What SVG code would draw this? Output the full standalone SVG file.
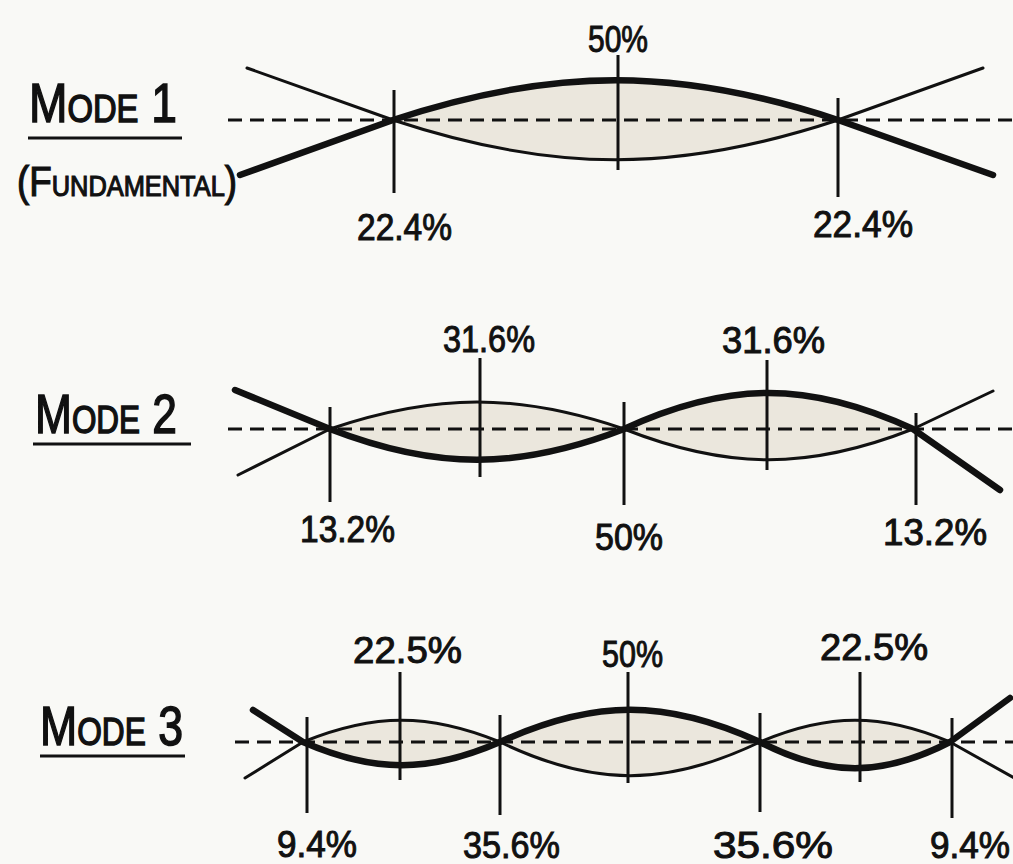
<svg xmlns="http://www.w3.org/2000/svg" width="1013" height="864" viewBox="0 0 1013 864">
<style>
.bg{fill:#f9f9f6}
.lobe{fill:#ebe7dd;stroke:none}
.thick{fill:none;stroke:#111;stroke-width:6.5;stroke-linecap:round;stroke-linejoin:round}
.thin{fill:none;stroke:#111;stroke-width:3;stroke-linecap:round;stroke-linejoin:round}
.dash{fill:none;stroke:#111;stroke-width:3;stroke-dasharray:14 8}
.tick{fill:none;stroke:#111;stroke-width:3}
.ul{fill:none;stroke:#111;stroke-width:3.2}
.lbl{font-family:"Liberation Sans",Arial,sans-serif;font-size:36px;fill:#111;stroke:#111;stroke-width:1}
.mode{font-family:"Liberation Sans",Arial,sans-serif;font-size:55px;font-variant:small-caps;fill:#111;stroke:#111;stroke-width:1.5}
.sub{font-family:"Liberation Sans",Arial,sans-serif;font-size:42px;font-variant:small-caps;fill:#111;stroke:#111;stroke-width:1.2}
</style>
<rect class="bg" x="0" y="0" width="1013" height="864"/>

<g id="mode1">
  <path class="lobe" d="M393,120 C553,67 678,67 838,120 C678,173 553,173 393,120 Z"/>
  <line class="dash" x1="228" y1="120" x2="1013" y2="120"/>
  <path class="thin" d="M247,68 L393,120 C553,173 678,173 838,120 L983,68"/>
  <path class="thick" d="M240,175 L393,120 C553,67 678,67 838,120 L993,175"/>
  <g id="m1-ticks">
    <line class="tick" x1="394" y1="90" x2="394" y2="193"/>
    <line class="tick" x1="618" y1="55" x2="618" y2="170"/>
    <line class="tick" x1="838" y1="98" x2="838" y2="197"/>
  </g>
  <text class="mode" x="29" y="122" textLength="148" lengthAdjust="spacingAndGlyphs">Mode 1</text>
  <line class="ul" x1="28" y1="138" x2="182" y2="138"/>
  <text class="sub" x="17" y="196" textLength="220" lengthAdjust="spacingAndGlyphs">(Fundamental)</text>
  <text class="lbl" x="588" y="52" textLength="60" lengthAdjust="spacingAndGlyphs">50%</text>
  <text class="lbl" x="357" y="240" textLength="95" lengthAdjust="spacingAndGlyphs">22.4%</text>
  <text class="lbl" x="813" y="237" textLength="100" lengthAdjust="spacingAndGlyphs">22.4%</text>
</g>

<g id="mode2">
  <path class="lobe" d="M330,429 C436,393 518,393 624,429 C518,470 436,470 330,429 Z"/>
  <path class="lobe" d="M624,429 C728,381 809,381 913,429 C809,470 728,470 624,429 Z"/>
  <line class="dash" x1="228" y1="429" x2="1013" y2="429"/>
  <path class="thin" d="M238,475 L330,429 C436,393 518,393 624,429 C728,470 809,470 913,429 L993,391"/>
  <path class="thick" d="M235,390 L330,429 C436,470 518,470 624,429 C728,381 809,381 913,429 L1000,490"/>
  <g id="m2-ticks">
    <line class="tick" x1="330" y1="407" x2="330" y2="502"/>
    <line class="tick" x1="480" y1="358" x2="480" y2="477"/>
    <line class="tick" x1="624" y1="402" x2="624" y2="505"/>
    <line class="tick" x1="767" y1="360" x2="767" y2="470"/>
    <line class="tick" x1="916" y1="413" x2="916" y2="505"/>
  </g>
  <text class="mode" x="35" y="433" textLength="142" lengthAdjust="spacingAndGlyphs">Mode 2</text>
  <line class="ul" x1="33" y1="444" x2="191" y2="444"/>
  <text class="lbl" x="443" y="352" textLength="92" lengthAdjust="spacingAndGlyphs">31.6%</text>
  <text class="lbl" x="722" y="353" textLength="103" lengthAdjust="spacingAndGlyphs">31.6%</text>
  <text class="lbl" x="300" y="542" textLength="95" lengthAdjust="spacingAndGlyphs">13.2%</text>
  <text class="lbl" x="595" y="550" textLength="68" lengthAdjust="spacingAndGlyphs">50%</text>
  <text class="lbl" x="883" y="545" textLength="104" lengthAdjust="spacingAndGlyphs">13.2%</text>
</g>

<g id="mode3">
  <path class="lobe" d="M303,742 C374,713 429,713 500,742 C429,773 374,773 303,742 Z"/>
  <path class="lobe" d="M500,742 C594,699 666,699 760,742 C666,787 594,787 500,742 Z"/>
  <path class="lobe" d="M760,742 C828,713 882,713 950,742 C882,777 828,777 760,742 Z"/>
  <line class="dash" x1="235" y1="742" x2="1013" y2="742"/>
  <path class="thin" d="M245,778 L303,742 C374,713 429,713 500,742 C594,787 666,787 760,742 C828,713 882,713 950,742 L1016,779"/>
  <path class="thick" d="M253,710 L303,742 C374,773 429,773 500,742 C594,699 666,699 760,742 C828,777 882,777 950,742 L1010,698"/>
  <g id="m3-ticks">
    <line class="tick" x1="307" y1="717" x2="307" y2="813"/>
    <line class="tick" x1="400" y1="672" x2="400" y2="780"/>
    <line class="tick" x1="500" y1="715" x2="500" y2="815"/>
    <line class="tick" x1="628" y1="672" x2="628" y2="783"/>
    <line class="tick" x1="760" y1="713" x2="760" y2="812"/>
    <line class="tick" x1="860" y1="672" x2="860" y2="782"/>
    <line class="tick" x1="952" y1="718" x2="952" y2="818"/>
  </g>
  <text class="mode" x="40" y="745" textLength="143" lengthAdjust="spacingAndGlyphs">Mode 3</text>
  <line class="ul" x1="40" y1="756" x2="185" y2="756"/>
  <text class="lbl" x="353" y="663" textLength="109" lengthAdjust="spacingAndGlyphs">22.5%</text>
  <text class="lbl" x="602" y="667" textLength="61" lengthAdjust="spacingAndGlyphs">50%</text>
  <text class="lbl" x="820" y="660" textLength="108" lengthAdjust="spacingAndGlyphs">22.5%</text>
  <text class="lbl" x="277" y="857" textLength="80" lengthAdjust="spacingAndGlyphs">9.4%</text>
  <text class="lbl" x="463" y="858" textLength="97" lengthAdjust="spacingAndGlyphs">35.6%</text>
  <text class="lbl" x="713" y="858" textLength="120" lengthAdjust="spacingAndGlyphs">35.6%</text>
  <text class="lbl" x="930" y="858" textLength="80" lengthAdjust="spacingAndGlyphs">9.4%</text>
</g>
</svg>
